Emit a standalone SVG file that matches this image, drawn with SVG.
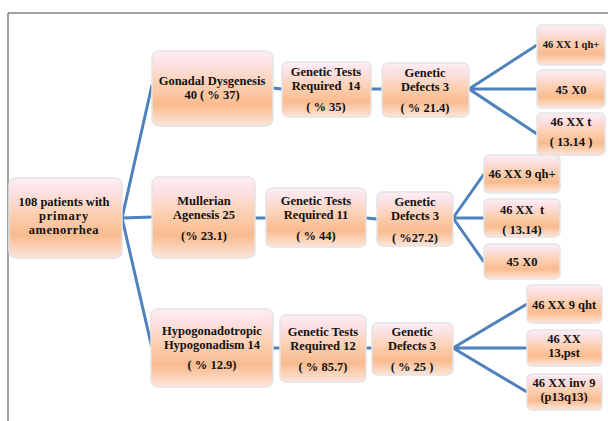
<svg xmlns="http://www.w3.org/2000/svg" width="608" height="421" viewBox="0 0 608 421">
<defs>
<linearGradient id="g" x1="0" y1="0" x2="0" y2="1">
<stop offset="0" stop-color="#fdf0f3"/>
<stop offset="0.15" stop-color="#fce2e7"/>
<stop offset="0.45" stop-color="#fcd0b2"/>
<stop offset="0.72" stop-color="#f9bb8f"/>
<stop offset="1" stop-color="#fde6dc"/>
</linearGradient>
<style>
.b{fill:url(#g);stroke:#e4e4e4;stroke-width:1.5}
.t{font-family:"Liberation Serif","Times New Roman",serif;font-weight:bold;font-size:12.5px;fill:#111;text-anchor:middle}
.s{font-size:10.5px}
.c{stroke:#4f81bd;stroke-width:3;fill:none}
</style>
</defs>
<rect width="608" height="421" fill="#fff"/>
<path d="M8,421 V13 H608" fill="none" stroke="#444" stroke-width="1"/>
<g id="connectors">
<path class="c" d="M122,218 L152,85 M122,218 L152,217 M122,218 L152,348"/>
<path class="c" d="M273,88 L282,89 M371,89 L382,89"/>
<path class="c" d="M469,89 L537,45 M469,89 L537,89 M469,89 L537,134"/>
<path class="c" d="M255,218 L266,218 M366,218 L377,219"/>
<path class="c" d="M453,218 L484,174 M453,218 L484,218 M453,218 L484,262"/>
<path class="c" d="M273,348 L280,348 M366,348 L372,348"/>
<path class="c" d="M453,348 L527,304 M453,348 L527,348 M453,348 L527,392"/>
</g>
<g id="root"><rect class="b" x="9" y="178" width="113" height="80" rx="7"/>
<text class="t" x="64" y="206">108 patients with</text><text class="t" x="64" y="220" letter-spacing="0.8">primary</text><text class="t" x="64" y="234" letter-spacing="0.5">amenorrhea</text></g>
<g id="gonadal"><rect class="b" x="152" y="51" width="121" height="75" rx="7"/>
<text class="t" x="212" y="85">Gonadal Dysgenesis</text><text class="t" x="212" y="99">40 ( % 37)</text></g>
<g id="gtr14"><rect class="b" x="282" y="62" width="89" height="55" rx="6"/>
<text class="t" x="326" y="76">Genetic Tests</text><text class="t" x="326" y="90" xml:space="preserve">Required  14</text><text class="t" x="326" y="111">( % 35)</text></g>
<g id="gd1"><rect class="b" x="382" y="63" width="87" height="54" rx="6"/>
<text class="t" x="425" y="77">Genetic</text><text class="t" x="425" y="91">Defects 3</text><text class="t" x="425" y="112">( % 21.4)</text></g>
<g id="r1a"><rect class="b" x="537" y="25" width="68" height="40" rx="5"/>
<text class="t s" x="571" y="48">46 XX 1 qh+</text></g>
<g id="r1b"><rect class="b" x="537" y="70" width="68" height="38" rx="5"/>
<text class="t" x="571" y="94">45 X0</text></g>
<g id="r1c"><rect class="b" x="537" y="113" width="68" height="42" rx="5"/>
<text class="t" x="571" y="126">46 XX t</text><text class="t" x="571" y="146">( 13.14 )</text></g>
<g id="mullerian"><rect class="b" x="152" y="177" width="103" height="81" rx="7"/>
<text class="t" x="204" y="205">Mullerian</text><text class="t" x="204" y="219">Agenesis 25</text><text class="t" x="204" y="240">(% 23.1)</text></g>
<g id="gtr11"><rect class="b" x="266" y="188" width="100" height="59" rx="6"/>
<text class="t" x="316" y="205">Genetic Tests</text><text class="t" x="316" y="219">Required 11</text><text class="t" x="316" y="240">( % 44)</text></g>
<g id="gd2"><rect class="b" x="377" y="192" width="76" height="54" rx="6"/>
<text class="t" x="415" y="206">Genetic</text><text class="t" x="415" y="220">Defects 3</text><text class="t" x="415" y="242">( %27.2)</text></g>
<g id="r2a"><rect class="b" x="484" y="155" width="76" height="38" rx="5"/>
<text class="t" x="522" y="178">46 XX 9 qh+</text></g>
<g id="r2b"><rect class="b" x="484" y="199" width="76" height="38" rx="5"/>
<text class="t" x="522" y="214" xml:space="preserve">46 XX  t</text><text class="t" x="522" y="234">( 13.14)</text></g>
<g id="r2c"><rect class="b" x="484" y="244" width="76" height="35" rx="5"/>
<text class="t" x="522" y="266">45 X0</text></g>
<g id="hypo"><rect class="b" x="151" y="309" width="122" height="78" rx="7"/>
<text class="t" x="212" y="335">Hypogonadotropic</text><text class="t" x="212" y="349">Hypogonadism 14</text><text class="t" x="212" y="369">( % 12.9)</text></g>
<g id="gtr12"><rect class="b" x="280" y="315" width="86" height="67" rx="6"/>
<text class="t" x="323" y="336">Genetic Tests</text><text class="t" x="323" y="350">Required 12</text><text class="t" x="323" y="371">( % 85.7)</text></g>
<g id="gd3"><rect class="b" x="372" y="323" width="81" height="52" rx="6"/>
<text class="t" x="412" y="336">Genetic</text><text class="t" x="412" y="350">Defects 3</text><text class="t" x="412" y="371">( % 25 )</text></g>
<g id="r3a"><rect class="b" x="527" y="285" width="75" height="38" rx="5"/>
<text class="t" x="564" y="309">46 XX 9 qht</text></g>
<g id="r3b"><rect class="b" x="527" y="330" width="75" height="36" rx="5"/>
<text class="t" x="564" y="343">46 XX</text><text class="t" x="564" y="357">13,pst</text></g>
<g id="r3c"><rect class="b" x="527" y="374" width="75" height="36" rx="5"/>
<text class="t" x="564" y="387">46 XX inv 9</text><text class="t" x="564" y="401">(p13q13)</text></g>
</svg>
